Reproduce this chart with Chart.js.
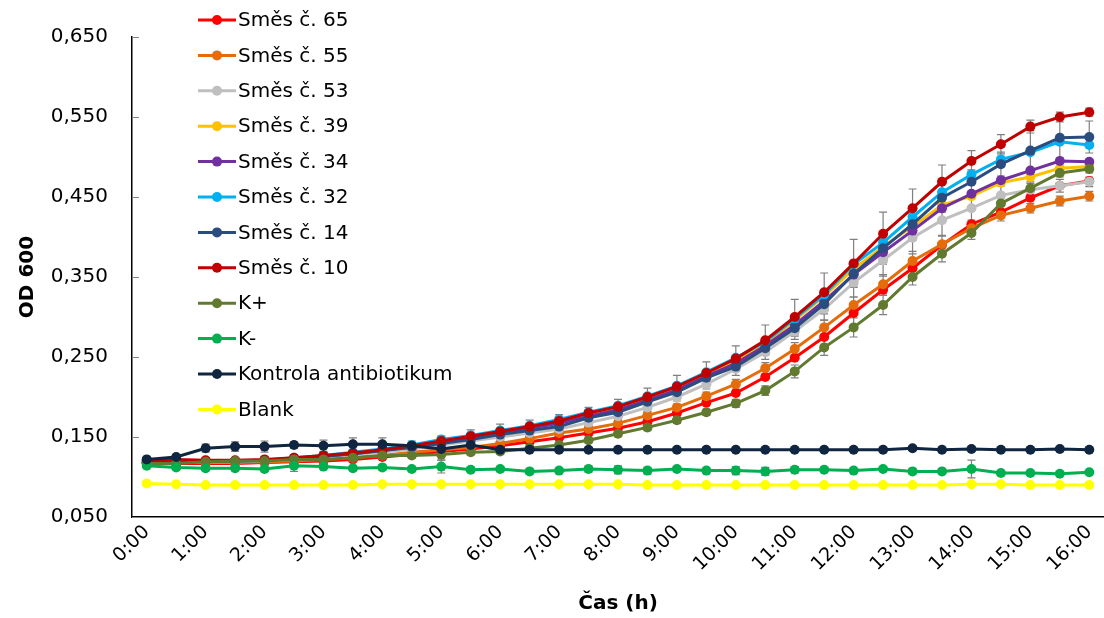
<!DOCTYPE html>
<html>
<head>
<meta charset="utf-8">
<script src="https://cdn.jsdelivr.net/npm/chart.js@4.4.1/dist/chart.umd.min.js"></script>
<style>
html,body{margin:0;padding:0;background:#fff;}
#wrap{position:relative;width:1104px;height:618px;}
</style>
</head>
<body>
<div id="wrap"><canvas id="c" width="1104" height="618"></canvas></div>
<script>
// ---------- DATA ----------
const timeLabels = ['0:00','0:30','1:00','1:30','2:00','2:30','3:00','3:30','4:00','4:30','5:00','5:30','6:00','6:30','7:00','7:30','8:00','8:30','9:00','9:30','10:00','10:30','11:00','11:30','12:00','12:30','13:00','13:30','14:00','14:30','15:00','15:30','16:00'];
const yTickValues = [0.05,0.15,0.25,0.35,0.45,0.55,0.65];

const seriesNames = ['Směs č. 65','Směs č. 55','Směs č. 53','Směs č. 39','Směs č. 34','Směs č. 32','Směs č. 14','Směs č. 10','K+','K-','Kontrola antibiotikum','Blank'];
const seriesColors = ['#FF0000','#E46C0A','#BFBFBF','#FFC000','#7030A0','#00B0F0','#2B4C7E','#C00000','#617A30','#00B050','#10253F','#FFFF00'];

const s65 = [0.118,0.117,0.117,0.117,0.118,0.119,0.120,0.122,0.125,0.128,0.132,0.135,0.139,0.144,0.149,0.155,0.161,0.169,0.180,0.193,0.205,0.225,0.249,0.275,0.305,0.334,0.361,0.390,0.416,0.431,0.449,0.464,0.470];
const s55 = [0.117,0.118,0.118,0.118,0.119,0.120,0.122,0.124,0.127,0.131,0.134,0.137,0.142,0.148,0.155,0.160,0.167,0.177,0.187,0.201,0.216,0.236,0.260,0.287,0.315,0.341,0.370,0.391,0.411,0.427,0.436,0.445,0.451];
const s53 = [0.117,0.118,0.119,0.119,0.120,0.122,0.125,0.128,0.131,0.135,0.140,0.145,0.150,0.155,0.160,0.168,0.176,0.187,0.200,0.216,0.235,0.256,0.282,0.310,0.343,0.371,0.399,0.421,0.436,0.452,0.459,0.464,0.469];
const s39 = [0.118,0.119,0.120,0.120,0.121,0.123,0.126,0.130,0.134,0.139,0.144,0.150,0.156,0.162,0.169,0.178,0.186,0.198,0.211,0.228,0.245,0.267,0.296,0.326,0.360,0.388,0.413,0.440,0.451,0.468,0.475,0.486,0.488];
const s34 = [0.118,0.119,0.120,0.120,0.121,0.123,0.126,0.129,0.133,0.138,0.143,0.149,0.155,0.161,0.167,0.176,0.184,0.196,0.209,0.226,0.242,0.264,0.290,0.320,0.353,0.381,0.408,0.436,0.454,0.471,0.483,0.495,0.494];
const s32 = [0.118,0.119,0.120,0.120,0.121,0.124,0.127,0.131,0.135,0.140,0.147,0.152,0.158,0.164,0.172,0.181,0.189,0.201,0.214,0.231,0.249,0.269,0.298,0.328,0.366,0.393,0.425,0.456,0.478,0.497,0.506,0.519,0.515];
const s14 = [0.121,0.120,0.120,0.120,0.121,0.123,0.126,0.129,0.133,0.137,0.142,0.147,0.153,0.158,0.163,0.174,0.181,0.194,0.206,0.224,0.238,0.261,0.286,0.316,0.354,0.386,0.416,0.449,0.469,0.491,0.508,0.524,0.525];
const s10 = [0.119,0.122,0.121,0.121,0.122,0.124,0.127,0.130,0.134,0.139,0.145,0.151,0.157,0.163,0.170,0.180,0.188,0.200,0.213,0.230,0.248,0.271,0.300,0.331,0.367,0.404,0.436,0.469,0.495,0.516,0.538,0.550,0.556];
const kPlus = [0.117,0.117,0.119,0.120,0.120,0.122,0.122,0.124,0.127,0.127,0.128,0.131,0.132,0.136,0.140,0.146,0.154,0.162,0.171,0.181,0.192,0.208,0.232,0.262,0.287,0.315,0.350,0.379,0.405,0.442,0.461,0.480,0.485];
const kMinus = [0.114,0.112,0.111,0.111,0.110,0.114,0.113,0.111,0.112,0.110,0.113,0.109,0.110,0.107,0.108,0.110,0.109,0.108,0.110,0.108,0.108,0.107,0.109,0.109,0.108,0.110,0.107,0.107,0.110,0.105,0.105,0.104,0.106];
const kontrola = [0.122,0.125,0.136,0.138,0.138,0.140,0.139,0.141,0.141,0.139,0.135,0.140,0.134,0.134,0.134,0.134,0.134,0.134,0.134,0.134,0.134,0.134,0.134,0.134,0.134,0.134,0.136,0.134,0.135,0.134,0.134,0.135,0.134];
const blank = [0.092,0.091,0.090,0.090,0.090,0.090,0.090,0.090,0.091,0.091,0.091,0.091,0.091,0.091,0.091,0.091,0.091,0.090,0.090,0.090,0.090,0.090,0.090,0.090,0.090,0.090,0.090,0.090,0.091,0.091,0.090,0.090,0.090];

// error bar half-widths (standard deviation)
const err10 = [0.002,0.002,0.002,0.002,0.003,0.003,0.003,0.004,0.005,0.006,0.006,0.008,0.009,0.008,0.008,0.007,0.009,0.011,0.014,0.014,0.016,0.019,0.022,0.024,0.030,0.027,0.024,0.021,0.013,0.012,0.008,0.006,0.005];
const err14 = [0.002,0.002,0.002,0.002,0.002,0.002,0.003,0.003,0.003,0.003,0.003,0.003,0.004,0.004,0.004,0.004,0.005,0.005,0.005,0.005,0.006,0.008,0.010,0.012,0.015,0.020,0.020,0.018,0.015,0.015,0.025,0.025,0.020];
const err53 = [0.002,0.002,0.002,0.002,0.002,0.002,0.002,0.002,0.003,0.003,0.003,0.003,0.003,0.003,0.004,0.004,0.004,0.005,0.005,0.006,0.008,0.009,0.010,0.014,0.018,0.020,0.020,0.019,0.015,0.012,0.010,0.008,0.006];
const err55 = [0.002,0.002,0.002,0.002,0.002,0.002,0.002,0.002,0.002,0.002,0.003,0.003,0.003,0.003,0.003,0.003,0.004,0.004,0.004,0.005,0.006,0.007,0.008,0.009,0.010,0.012,0.012,0.010,0.008,0.007,0.006,0.006,0.006];
const errKPlus = [0.002,0.002,0.002,0.002,0.002,0.003,0.003,0.003,0.003,0.003,0.007,0.003,0.003,0.003,0.003,0.003,0.003,0.004,0.004,0.004,0.005,0.006,0.008,0.010,0.012,0.012,0.010,0.010,0.008,0.007,0.006,0.005,0.005];
const errKMinus = [0.002,0.002,0.003,0.003,0.002,0.007,0.003,0.003,0.003,0.003,0.008,0.003,0.003,0.003,0.003,0.004,0.005,0.004,0.003,0.003,0.005,0.005,0.004,0.003,0.003,0.003,0.003,0.003,0.011,0.003,0.002,0.002,0.002];
const errKontrola = [0.002,0.002,0.005,0.006,0.007,0.004,0.007,0.008,0.008,0.004,0.004,0.003,0.002,0.002,0.002,0.002,0.002,0.002,0.002,0.002,0.002,0.002,0.002,0.002,0.002,0.002,0.002,0.002,0.002,0.002,0.002,0.002,0.002];

const seriesValues = [s65,s55,s53,s39,s34,s32,s14,s10,kPlus,kMinus,kontrola,blank];
const seriesErrors = [null,err55,err53,null,null,null,err14,err10,errKPlus,errKMinus,errKontrola,null];

// ---------- CHART ----------
const FONT = 'DejaVu Sans';

const datasets = seriesNames.map((name, i) => ({
  label: name,
  data: seriesValues[i],
  borderColor: seriesColors[i],
  backgroundColor: seriesColors[i],
  pointBackgroundColor: seriesColors[i],
  pointBorderColor: seriesColors[i],
  borderWidth: 3,
  pointRadius: 5,
  pointBorderWidth: 0,
  pointHoverRadius: 5,
  tension: 0,
  order: -i,
  errors: seriesErrors[i]
}));

const errorBarPlugin = {
  id: 'errorBars',
  beforeDatasetsDraw(chart) {
    const ctx = chart.ctx;
    const y = chart.scales.y;
    ctx.save();
    ctx.strokeStyle = '#7F7F7F';
    ctx.lineWidth = 1.2;
    chart.data.datasets.forEach((ds, di) => {
      if (!ds.errors) return;
      const meta = chart.getDatasetMeta(di);
      meta.data.forEach((pt, j) => {
        const e = ds.errors[j];
        if (!e) return;
        const v = ds.data[j];
        const yt = y.getPixelForValue(v + e);
        const yb = y.getPixelForValue(v - e);
        const x = pt.x;
        ctx.beginPath();
        ctx.moveTo(x, yt); ctx.lineTo(x, yb);
        ctx.moveTo(x - 4, yt); ctx.lineTo(x + 4, yt);
        ctx.moveTo(x - 4, yb); ctx.lineTo(x + 4, yb);
        ctx.stroke();
      });
    });
    ctx.restore();
  }
};

const innerTicksPlugin = {
  id: 'innerTicks',
  afterDraw(chart) {
    const ctx = chart.ctx;
    const y = chart.scales.y;
    ctx.save();
    ctx.strokeStyle = '#868686';
    ctx.lineWidth = 1;
    y.ticks.forEach(t => {
      const py = Math.round(y.getPixelForValue(t.value)) + 0.5;
      ctx.beginPath();
      ctx.moveTo(chart.chartArea.left, py);
      ctx.lineTo(chart.chartArea.left + 7, py);
      ctx.stroke();
    });
    ctx.restore();
  }
};

const legendPlugin = {
  id: 'customLegend',
  afterDraw(chart) {
    const ctx = chart.ctx;
    ctx.save();
    ctx.font = '20px "' + FONT + '"';
    ctx.textBaseline = 'middle';
    ctx.textAlign = 'left';
    chart.data.datasets.forEach((ds, i) => {
      const cy = 20 + i * 35.4;
      ctx.strokeStyle = ds.borderColor;
      ctx.lineWidth = 3;
      ctx.beginPath();
      ctx.moveTo(198, cy); ctx.lineTo(236, cy);
      ctx.stroke();
      ctx.fillStyle = ds.borderColor;
      ctx.beginPath();
      ctx.arc(217, cy, 5, 0, Math.PI * 2);
      ctx.fill();
      ctx.fillStyle = '#000';
      ctx.fillText(ds.label, 238, cy + 1);
    });
    ctx.restore();
  }
};

// Force the plot area to span to the right edge of the canvas (as in the reference)
const areaPlugin = {
  id: 'fullRight',
  afterLayout(chart) {
    const x = chart.scales.x;
    const target = chart.width;
    if (chart.chartArea.right !== target) {
      chart.chartArea.right = target;
      chart.chartArea.width = target - chart.chartArea.left;
      x.right = target;
      x.width = target - x.left;
      x.configure();
    }
  }
};

new Chart(document.getElementById('c'), {
  type: 'line',
  data: { labels: timeLabels, datasets: datasets },
  options: {
    responsive: false,
    animation: false,
    devicePixelRatio: 1,
    layout: { padding: { top: 37, right: 0, left: 0, bottom: 0 } },
    plugins: { legend: { display: false }, tooltip: { enabled: false } },
    scales: {
      x: {
        type: 'category',
        offset: true,
        grid: { display: false, drawTicks: false },
        border: { display: true, color: '#000', width: 1.5 },
        ticks: {
          autoSkip: false,
          minRotation: 45,
          maxRotation: 45,
          padding: 4,
          color: '#000',
          font: { family: FONT, size: 19 },
          callback: function(value, index) { return index % 2 === 0 ? this.getLabelForValue(value) : ''; }
        },
        title: {
          display: true,
          text: 'Čas (h)',
          color: '#000',
          font: { family: FONT, size: 20, weight: 'bold' },
          padding: { top: 0, bottom: 2 }
        },
        afterFit(scale) { scale.height = 101; scale.paddingLeft = 0; scale.paddingRight = 0; }
      },
      y: {
        min: 0.05,
        max: 0.65,
        grid: { display: false, drawTicks: false },
        border: { display: true, color: '#000', width: 1.5 },
        afterBuildTicks(scale) { scale.ticks = yTickValues.map(v => ({ value: v })); },
        ticks: {
          padding: 24,
          color: '#000',
          font: { family: FONT, size: 20 },
          callback: v => v.toFixed(3).replace('.', ',')
        },
        title: {
          display: true,
          text: 'OD 600',
          color: '#000',
          font: { family: FONT, size: 20, weight: 'bold' },
          padding: { top: 16, bottom: 0 }
        },
        afterFit(scale) { scale.width = 132; }
      }
    }
  },
  plugins: [areaPlugin, errorBarPlugin, innerTicksPlugin, legendPlugin]
});
</script>
</body>
</html>
